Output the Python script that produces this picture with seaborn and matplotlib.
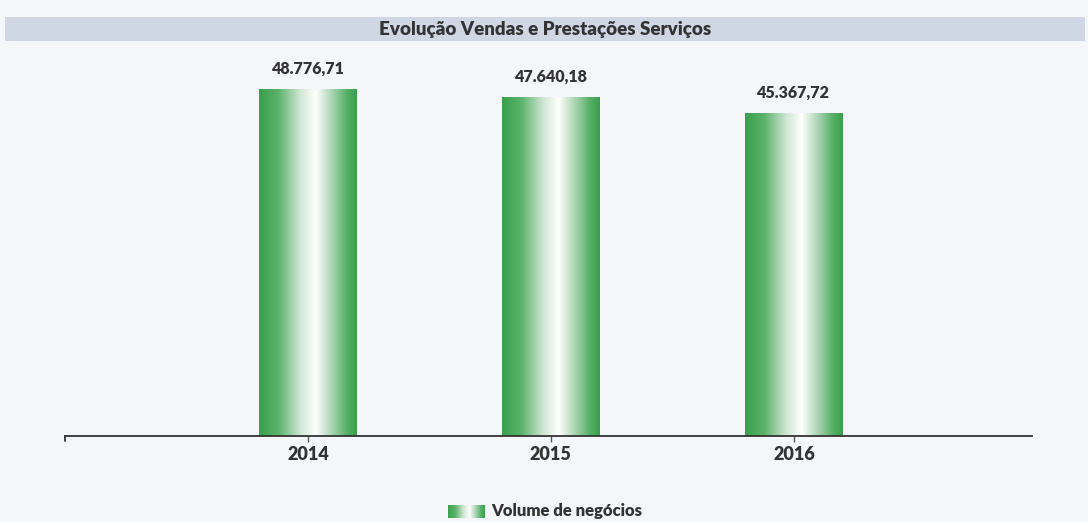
import numpy as np
import pandas as pd
import matplotlib
matplotlib.use("Agg")
import matplotlib.pyplot as plt
import seaborn as sns
from matplotlib.colors import LinearSegmentedColormap
from matplotlib.patches import Rectangle

years = ["2014", "2015", "2016"]
values = [48776.71, 47640.18, 45367.72]
value_labels = ["48.776,71", "47.640,18", "45.367,72"]
title = "Evolução Vendas e Prestações Serviços"
legend_label = "Volume de negócios"

sns.set_theme(style="white")
plt.rcParams['font.family'] = ['Lato', 'DejaVu Sans']

bg = "#f4f6fa"
fig = plt.figure(figsize=(10.88, 5.22), dpi=100, facecolor=bg)
ax = fig.add_axes([65/1088, (522-436)/522, 967/1088, 0.7367])
ax.set_facecolor(bg)

df = pd.DataFrame({"year": years, "value": values})
sns.barplot(data=df, x="year", y="value", ax=ax, color="#3da550", width=0.4)

ax.set_xlim(-1, 2.98)
ax.set_ylim(0, 54000)

cmap = LinearSegmentedColormap.from_list(
    "g", [(0, "#38a04c"), (0.2, "#5db36c"), (0.42, "#cfe6d3"), (0.58, "#ffffff"),
          (0.75, "#a8d3b0"), (0.9, "#55b065"), (1, "#3a9f4c")])
grad = np.linspace(0, 1, 256).reshape(1, -1)
for p in ax.patches:
    x0, w, h = p.get_x(), p.get_width(), p.get_height()
    p.set_facecolor("none")
    p.set_edgecolor("none")
    im = ax.imshow(grad, cmap=cmap, aspect="auto", extent=[x0, x0 + w, 0, h], zorder=2)
    im.set_clip_path(p)

for i, (v, lab) in enumerate(zip(values, value_labels)):
    ax.text(i, v + 1700, lab, ha="center", va="bottom", fontsize=11.5,
            fontweight="heavy", color="#333333")

for s in ["top", "right", "left"]:
    ax.spines[s].set_visible(False)
ax.spines["bottom"].set_color("#333333")
ax.spines["bottom"].set_linewidth(1.3)
ax.set_yticks([])
ax.set_xlabel("")
ax.set_ylabel("")
ax.tick_params(axis="x", length=4, width=1, color="#555555", direction="out",
               labelsize=13, labelcolor="#333333", pad=3, bottom=True)
for t in ax.get_xticklabels():
    t.set_fontweight("heavy")
# small end tick at left of axis
ax.plot([0, 0], [0, -0.012], transform=ax.transAxes, color="#333333", lw=1.3,
        clip_on=False)

# title band
fig.patches.append(Rectangle((5/1088, 1 - 41/522), 1080/1088, 24/522,
                             transform=fig.transFigure, facecolor="#cfd7e4",
                             edgecolor="none", zorder=0))
fig.text(545/1088, 1 - 29/522, title, ha="center", va="center", fontsize=13.5,
         fontweight="heavy", color="#333333")

# legend
lax = fig.add_axes([448/1088, 1 - 518/522, 37/1088, 13/522])
lax.imshow(grad, cmap=cmap, aspect="auto", extent=[0, 1, 0, 1])
lax.set_axis_off()
fig.text(491/1088, 1 - 511/522, legend_label, ha="left", va="center", fontsize=12,
         fontweight="heavy", color="#333333")

fig.savefig("out.png", dpi=100, facecolor=bg)
